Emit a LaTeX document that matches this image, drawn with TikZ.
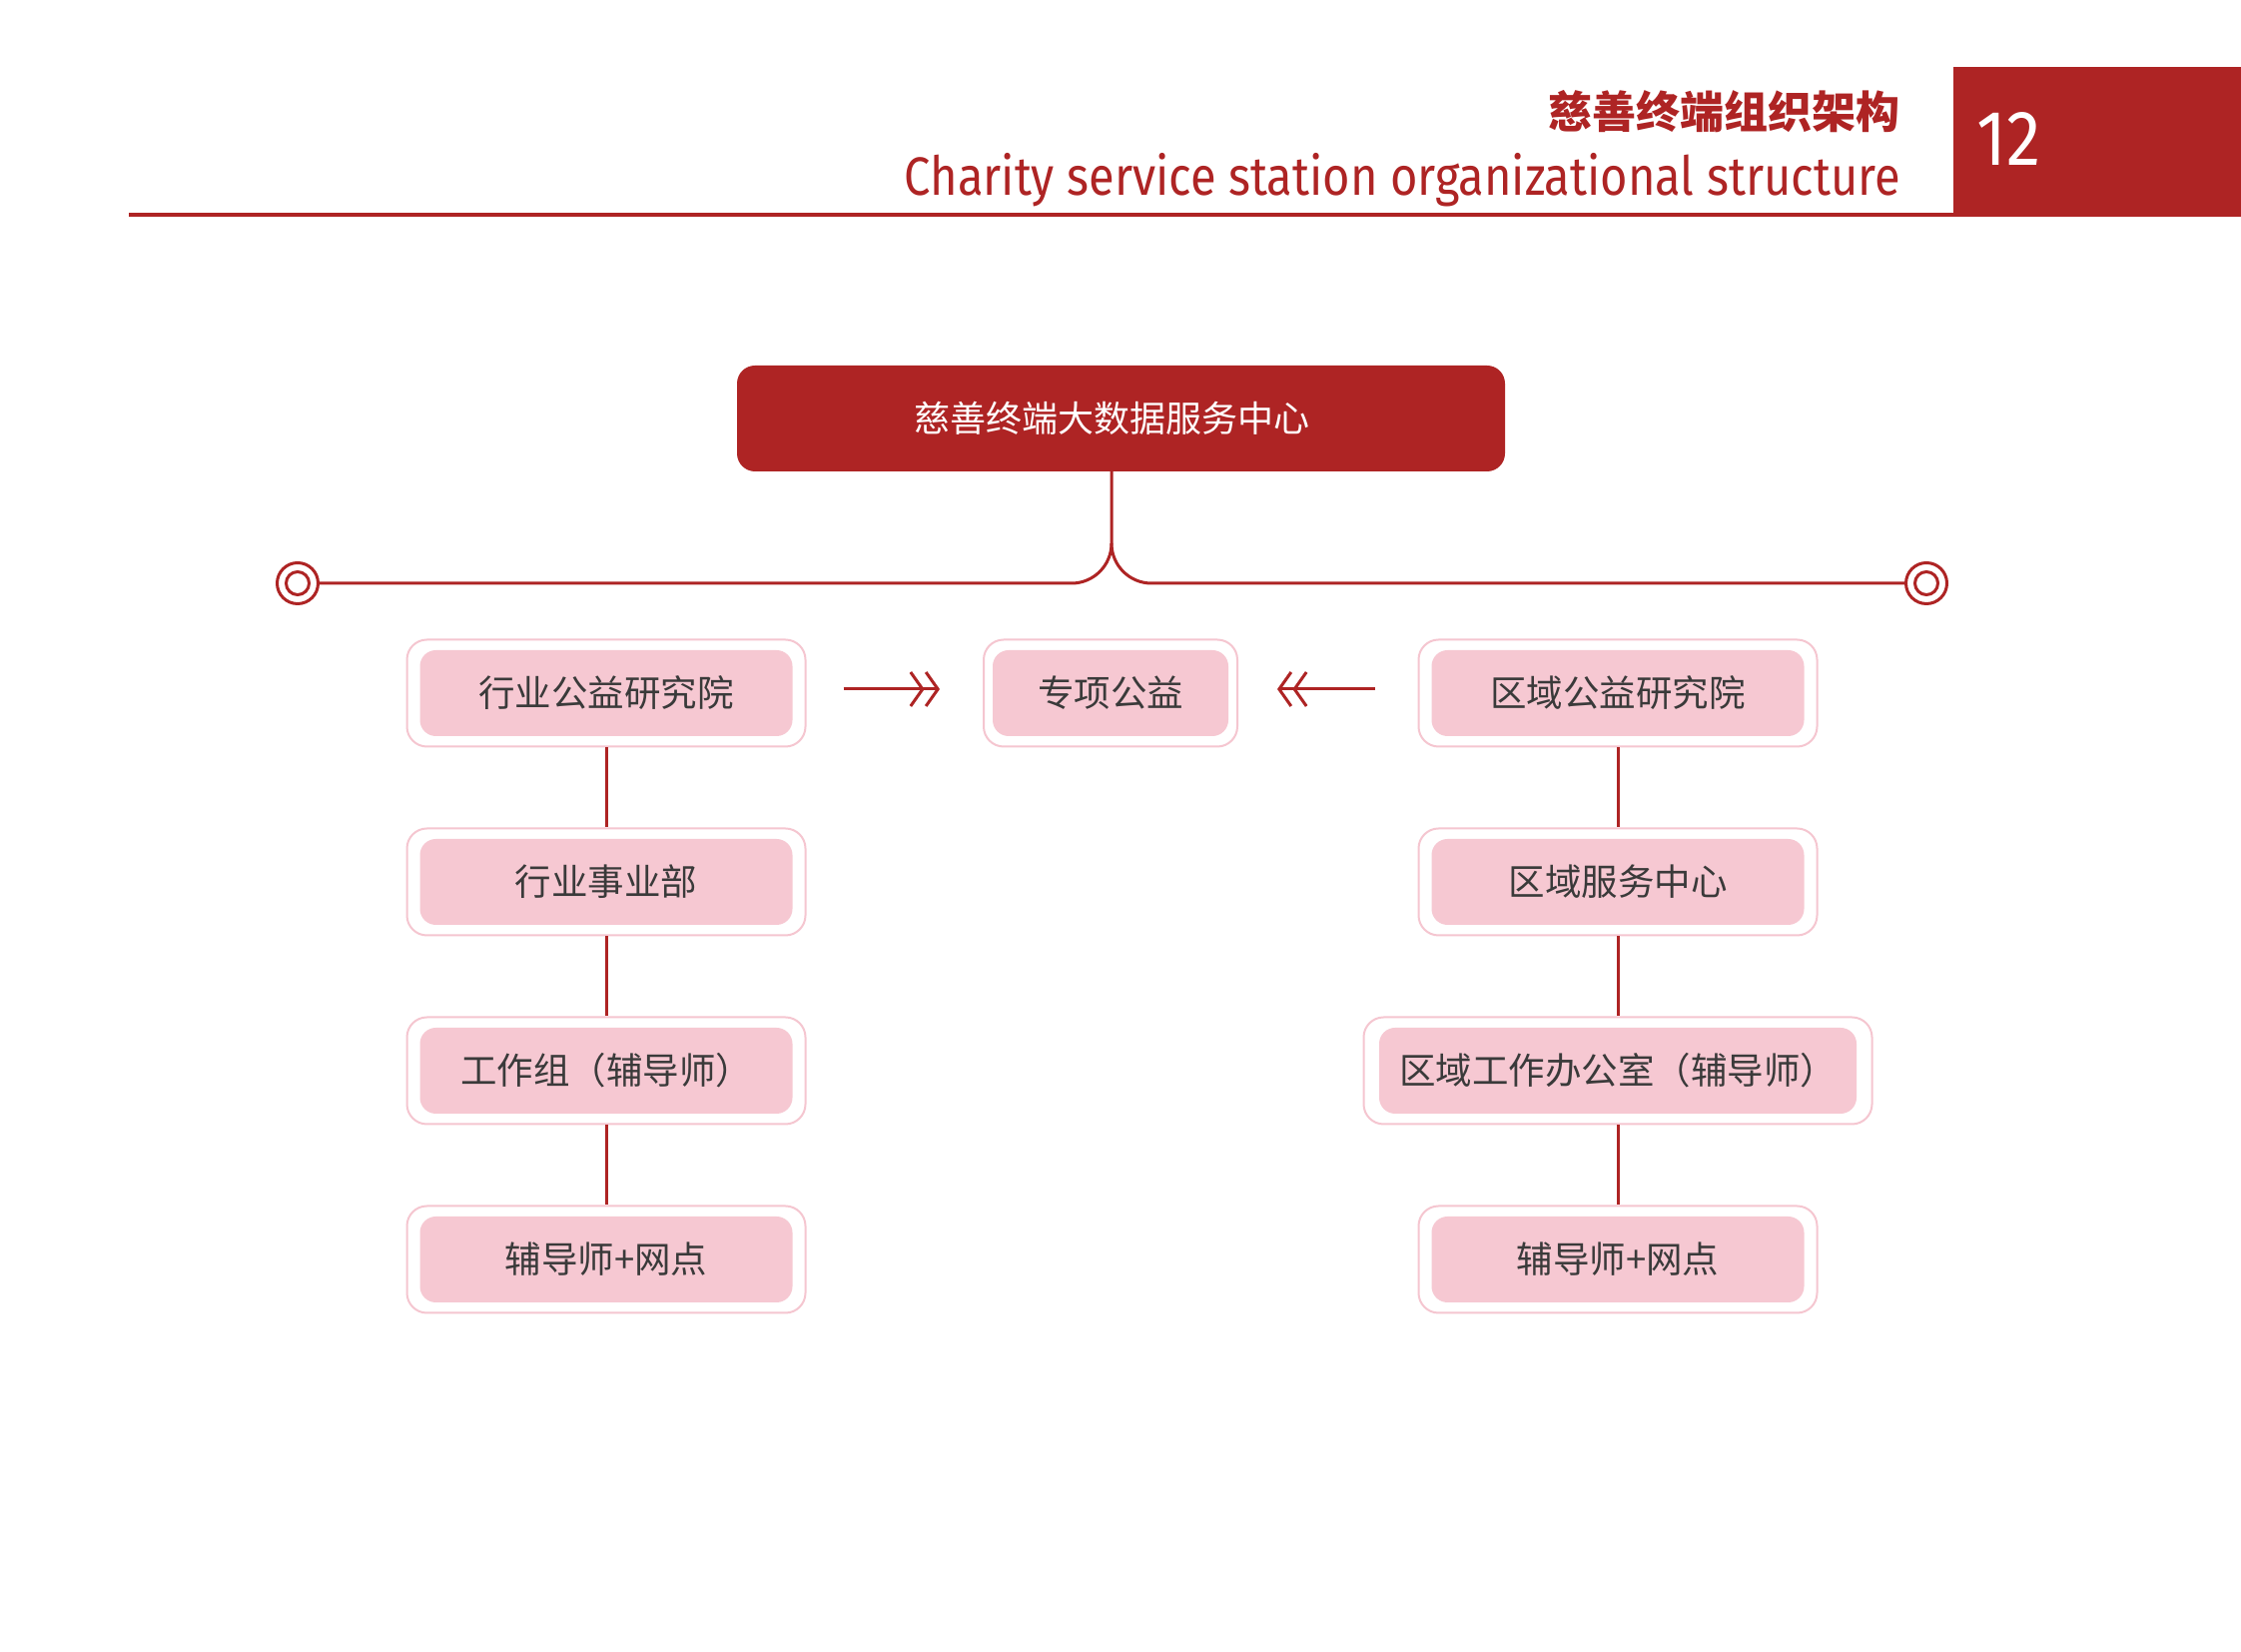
\documentclass[tikz,border=0pt]{standalone}
\usepackage{fontspec}
\usepackage{graphicx}
\usetikzlibrary{arrows.meta,calc}
\newfontfamily\cjk{Noto Sans CJK SC}
\newfontfamily\eng{Fira Sans}
\definecolor{cred}{HTML}{AE2424}
\definecolor{cpink}{HTML}{F6C8D2}
\definecolor{cborder}{HTML}{F5C6D0}
\definecolor{ctext}{HTML}{3A3A3A}
\begin{document}
\begin{tikzpicture}[x=1pt,y=1pt,
  outerbox/.style={draw=cborder, line width=2pt, fill=white, rounded corners=20pt, minimum height=107pt, inner sep=0pt},
  innerbox/.style={fill=cpink, rounded corners=16pt, minimum height=86pt, text=ctext, font=\cjk\fontsize{36.5}{40}\selectfont, inner sep=0pt},
  conn/.style={draw=cred, line width=3pt},
  arr/.style={draw=cred, line width=3pt, -{Straight Barb[length=12pt,width=34pt,line width=3pt] Straight Barb[length=12pt,width=34pt,line width=3pt]}},
  ring/.style={circle, draw=cred, line width=3pt, fill=white, minimum size=41pt, inner sep=0pt}
]
\useasboundingbox (0,0) rectangle (2244,1654);
\fill[white] (0,0) rectangle (2244,1654);
% header
\fill[cred] (1956,1437) rectangle (2244,1587);
\draw[cred, line width=4pt] (129,1439) -- (1956,1439);
\node[anchor=east, text=cred, inner sep=0pt, font=\cjk\bfseries\fontsize{44}{48}\selectfont] (tcn) at (1903,1542) {慈善终端组织架构};
\node[anchor=east, text=cred, inner sep=0pt] (ten) at (1903,1474) {\resizebox{997pt}{\height}{\eng\fontsize{54}{58}\selectfont Charity service station organizational structure}};
\node[anchor=west, text=white, inner sep=0pt] (num) at (1979,1515) {\resizebox{64pt}{\height}{\eng\fontsize{78}{82}\selectfont 12}};
% top box
\node[fill=cred, rounded corners=18pt, minimum width=769pt, minimum height=106pt, inner sep=0pt] (top) at (1122.5,1235) {};
\node[text=white, font=\cjk\fontsize{36}{40}\selectfont, inner sep=0pt] (toptext) at (1113,1235) {慈善终端大数据服务中心};
% rings and branch line
\coordinate (j) at (1113,1070);
\node[ring] (cl) at (298,1070) {};
\node[ring] (cr) at (1929,1070) {};
\draw[cred, line width=3pt] (cl) circle (11.5pt);
\draw[cred, line width=3pt] (cr) circle (11.5pt);
\draw[conn] (cl.east) -- ($(j)+(-40,0)$) arc[start angle=270, end angle=360, radius=40pt] -- (top.south -| j);
\draw[conn] (cr.west) -- ($(j)+(40,0)$) arc[start angle=270, end angle=180, radius=40pt];
% left column
\node[outerbox, minimum width=399pt] (l1) at (607,960) {};
\node[innerbox, minimum width=373pt] (l1t) at (l1) {行业公益研究院};
\node[outerbox, minimum width=399pt] (l2) at (607,771) {};
\node[innerbox, minimum width=373pt] (l2t) at (l2) {行业事业部};
\node[outerbox, minimum width=399pt] (l3) at (607,582) {};
\node[innerbox, minimum width=373pt] (l3t) at (l3) {工作组（辅导师）};
\node[outerbox, minimum width=399pt] (l4) at (607,393) {};
\node[innerbox, minimum width=373pt] (l4t) at (l4) {辅导师+网点};
% middle
\node[outerbox, minimum width=254pt] (m) at (1112,960) {};
\node[innerbox, minimum width=236pt] (mt) at (m) {专项公益};
% right column
\node[outerbox, minimum width=399pt] (r1) at (1620,960) {};
\node[innerbox, minimum width=373pt] (r1t) at (r1) {区域公益研究院};
\node[outerbox, minimum width=399pt] (r2) at (1620,771) {};
\node[innerbox, minimum width=373pt] (r2t) at (r2) {区域服务中心};
\node[outerbox, minimum width=509pt] (r3) at (1620,582) {};
\node[innerbox, minimum width=478pt] (r3t) at (r3) {区域工作办公室（辅导师）};
\node[outerbox, minimum width=399pt] (r4) at (1620,393) {};
\node[innerbox, minimum width=373pt] (r4t) at (r4) {辅导师+网点};
% connectors
\draw[conn] (l1.south) -- (l2.north);
\draw[conn] (l2.south) -- (l3.north);
\draw[conn] (l3.south) -- (l4.north);
\draw[conn] (r1.south) -- (r2.north);
\draw[conn] (r2.south) -- (r3.north);
\draw[conn] (r3.south) -- (r4.north);
\draw[arr, shorten <=37pt, shorten >=43pt] ([yshift=4pt]l1.east) -- ([yshift=4pt]m.west);
\draw[arr, shorten <=43pt, shorten >=39pt] ([yshift=4pt]r1.west) -- ([yshift=4pt]m.east);
\end{tikzpicture}
\end{document}
